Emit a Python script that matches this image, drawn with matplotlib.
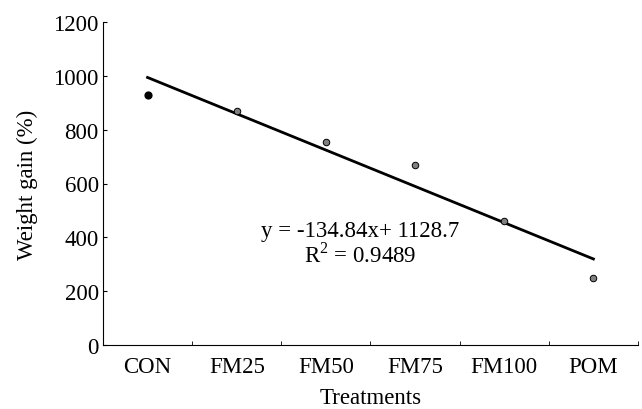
import numpy as np
import matplotlib
matplotlib.use("Agg")
import matplotlib.pyplot as plt
from matplotlib.ticker import FixedLocator

# ---------- data ----------
treatments = ["CON", "FM25", "FM50", "FM75", "FM100", "POM"]
weight_gain = [930, 870, 755, 670, 459, 248]
slope, intercept = -134.84, 1128.7

plt.rcParams["font.family"] = ["Liberation Serif", "DejaVu Serif"]
plt.rcParams["mathtext.fontset"] = "custom"
plt.rcParams["mathtext.rm"] = "Liberation Serif"

fs = 16.5

fig = plt.figure(figsize=(6.42, 4.10), dpi=100)
ax = fig.add_axes([0.1604, 0.156, 0.8334, 0.788])

x = np.arange(1, len(treatments) + 1)

# regression line
ax.plot([x[0], x[-1]], [slope * x[0] + intercept, slope * x[-1] + intercept],
        color="black", lw=2, zorder=2)

# points
ax.scatter(x[1:], weight_gain[1:], s=22, color="#808080", edgecolor="black",
           linewidth=0.7, zorder=3)
ax.scatter(x[:1], weight_gain[:1], s=24, color="black", zorder=3)

ax.text(3.38, 424, "y = -134.84x+ 1128.7", fontsize=fs, ha="center", va="center")
ax.text(3.38, 338, r"R$^2$ = 0.9489", fontsize=fs, ha="center", va="center")

ax.set_xlim(0.5, 6.5)
ax.set_ylim(0, 1200)
ax.set_yticks(range(0, 1201, 200))
ax.set_xticks(x)
ax.set_xticklabels(treatments)
ax.xaxis.set_minor_locator(FixedLocator(np.arange(1.5, 7, 1)))
ax.tick_params(axis="x", which="major", length=0, pad=8, labelsize=fs)
ax.tick_params(axis="x", which="minor", direction="in", length=3)
ax.tick_params(axis="y", direction="in", length=3, labelsize=fs, pad=3)

ax.spines["top"].set_visible(False)
ax.spines["right"].set_visible(False)

ax.set_xlabel("Treatments", fontsize=fs, labelpad=7)
ax.set_ylabel("Weight gain (%)", fontsize=fs, labelpad=11)

fig.savefig("out.png", dpi=100)
